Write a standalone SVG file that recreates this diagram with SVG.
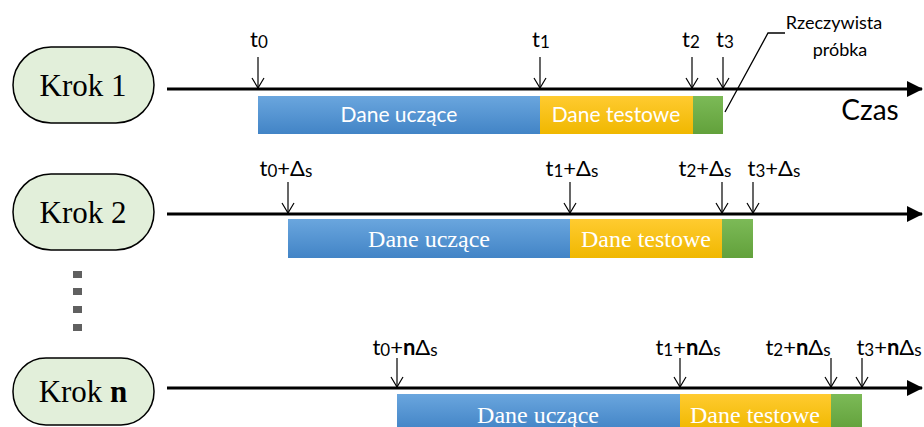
<svg xmlns="http://www.w3.org/2000/svg" width="924" height="427" viewBox="0 0 924 427">
<defs>
<linearGradient id="gb" x1="0" y1="0" x2="0" y2="1"><stop offset="0" stop-color="#6aa6de"/><stop offset="1" stop-color="#4284c6"/></linearGradient>
<linearGradient id="gy" x1="0" y1="0" x2="0" y2="1"><stop offset="0" stop-color="#ffcb30"/><stop offset="1" stop-color="#f0b800"/></linearGradient>
<linearGradient id="gg" x1="0" y1="0" x2="0" y2="1"><stop offset="0" stop-color="#7cba57"/><stop offset="1" stop-color="#62a13b"/></linearGradient>
<marker id="big" viewBox="0 0 16 16" refX="15" refY="8" markerWidth="16" markerHeight="16" markerUnits="userSpaceOnUse" orient="auto"><path d="M0,0 L16,8 L0,16 Z" fill="#000"/></marker>
<marker id="small" viewBox="0 0 14 14" refX="7" refY="13" markerWidth="14" markerHeight="14" markerUnits="userSpaceOnUse" orient="0"><path d="M1,3 L7,13 L13,3" fill="none" stroke="#000" stroke-width="1.2"/></marker>
</defs>
<style>
.step{fill:#e2efda;stroke:#000;stroke-width:1.5}
.krok{font-family:"Liberation Serif",serif;font-size:31px;fill:#000;text-anchor:middle}
.axis{stroke:#000;stroke-width:3;fill:none;marker-end:url(#big)}
.tick{stroke:#000;stroke-width:1.2;fill:none;marker-end:url(#small)}
.lbl{font-family:Lato,"Open Sans",sans-serif;font-size:22px;fill:#000;text-anchor:middle}
.sub{font-size:17px}
.bt{font-family:Lato,"Open Sans",sans-serif;font-size:21px;fill:#fff;text-anchor:middle}
.bts{font-family:"Liberation Serif",serif;font-size:24px;fill:#fff;text-anchor:middle}
.dot{fill:#606060}
</style>

<g id="step1">
<rect class="step" x="13" y="47" width="141" height="76" rx="38" ry="38"/>
<text class="krok" x="83" y="96">Krok 1</text>
</g>
<g id="step2">
<rect class="step" x="13" y="174" width="141" height="76" rx="38" ry="38"/>
<text class="krok" x="83" y="223">Krok 2</text>
</g>
<g id="stepn">
<rect class="step" x="13" y="358" width="141" height="67" rx="33" ry="33"/>
<text class="krok" x="83" y="402">Krok <tspan font-weight="bold">n</tspan></text>
</g>
<g id="dots">
<rect class="dot" x="73" y="271" width="9" height="7"/>
<rect class="dot" x="73" y="288" width="9" height="7"/>
<rect class="dot" x="73" y="306" width="9" height="7"/>
<rect class="dot" x="73" y="324" width="9" height="7"/>
</g>

<g id="bars1">
<rect x="258" y="96" width="282" height="38" fill="url(#gb)"/>
<rect x="540" y="96" width="153" height="38" fill="url(#gy)"/>
<rect x="693" y="96" width="30" height="38" fill="url(#gg)"/>
<text class="bt" x="399" y="122">Dane uczące</text>
<text class="bt" x="616" y="122">Dane testowe</text>
</g>
<g id="bars2">
<rect x="288" y="219" width="282" height="39" fill="url(#gb)"/>
<rect x="570" y="219" width="152" height="39" fill="url(#gy)"/>
<rect x="722" y="219" width="31" height="39" fill="url(#gg)"/>
<text class="bts" x="429" y="247">Dane uczące</text>
<text class="bts" x="646" y="247">Dane testowe</text>
</g>
<g id="bars3">
<rect x="397" y="394" width="283" height="36" fill="url(#gb)"/>
<rect x="680" y="394" width="151" height="36" fill="url(#gy)"/>
<rect x="831" y="394" width="31" height="36" fill="url(#gg)"/>
<text class="bts" x="538" y="423">Dane uczące</text>
<text class="bts" x="755" y="423">Dane testowe</text>
</g>

<g id="connectors">
<line class="axis" x1="167" y1="89" x2="922" y2="89"/>
<line class="axis" x1="167" y1="214" x2="922" y2="214"/>
<line class="axis" x1="167" y1="388" x2="922" y2="388"/>
<line class="tick" x1="258" y1="57" x2="258" y2="88"/>
<line class="tick" x1="540" y1="57" x2="540" y2="88"/>
<line class="tick" x1="692" y1="57" x2="692" y2="88"/>
<line class="tick" x1="723" y1="57" x2="723" y2="88"/>
<line class="tick" x1="288" y1="182" x2="288" y2="213"/>
<line class="tick" x1="570" y1="182" x2="570" y2="213"/>
<line class="tick" x1="722" y1="182" x2="722" y2="213"/>
<line class="tick" x1="753" y1="182" x2="753" y2="213"/>
<line class="tick" x1="397" y1="358" x2="397" y2="387"/>
<line class="tick" x1="680" y1="358" x2="680" y2="387"/>
<line class="tick" x1="831" y1="358" x2="831" y2="387"/>
<line class="tick" x1="862" y1="358" x2="862" y2="387"/>
<polyline points="725,112 768,33 785,33" fill="none" stroke="#000" stroke-width="1.3"/>
</g>

<g id="labels1">
<text class="lbl" x="259" y="47">t<tspan class="sub" dy="1">0</tspan></text>
<text class="lbl" x="541" y="47">t<tspan class="sub" dy="1">1</tspan></text>
<text class="lbl" x="691" y="47">t<tspan class="sub" dy="1">2</tspan></text>
<text class="lbl" x="725" y="47">t<tspan class="sub" dy="1">3</tspan></text>
<text font-family="Lato,'Open Sans',sans-serif" font-size="18" x="834" y="29" text-anchor="middle">Rzeczywista</text>
<text font-family="Lato,'Open Sans',sans-serif" font-size="18" x="840" y="56" text-anchor="middle">próbka</text>
<text font-family="Lato,'Open Sans',sans-serif" font-size="28" x="870" y="120" text-anchor="middle">Czas</text>
</g>
<g id="labels2">
<text class="lbl" x="286" y="176">t<tspan class="sub" dy="1">0</tspan><tspan dy="-1">+Δ</tspan><tspan class="sub" dy="1">s</tspan></text>
<text class="lbl" x="572" y="176">t<tspan class="sub" dy="1">1</tspan><tspan dy="-1">+Δ</tspan><tspan class="sub" dy="1">s</tspan></text>
<text class="lbl" x="705" y="176">t<tspan class="sub" dy="1">2</tspan><tspan dy="-1">+Δ</tspan><tspan class="sub" dy="1">s</tspan></text>
<text class="lbl" x="774" y="176">t<tspan class="sub" dy="1">3</tspan><tspan dy="-1">+Δ</tspan><tspan class="sub" dy="1">s</tspan></text>
</g>
<g id="labels3">
<text class="lbl" x="405" y="355">t<tspan class="sub" dy="1">0</tspan><tspan dy="-1">+</tspan><tspan font-weight="bold">n</tspan>Δ<tspan class="sub" dy="1">s</tspan></text>
<text class="lbl" x="688" y="355">t<tspan class="sub" dy="1">1</tspan><tspan dy="-1">+</tspan><tspan font-weight="bold">n</tspan>Δ<tspan class="sub" dy="1">s</tspan></text>
<text class="lbl" x="798" y="355">t<tspan class="sub" dy="1">2</tspan><tspan dy="-1">+</tspan><tspan font-weight="bold">n</tspan>Δ<tspan class="sub" dy="1">s</tspan></text>
<text class="lbl" x="889" y="355">t<tspan class="sub" dy="1">3</tspan><tspan dy="-1">+</tspan><tspan font-weight="bold">n</tspan>Δ<tspan class="sub" dy="1">s</tspan></text>
</g>
</svg>
